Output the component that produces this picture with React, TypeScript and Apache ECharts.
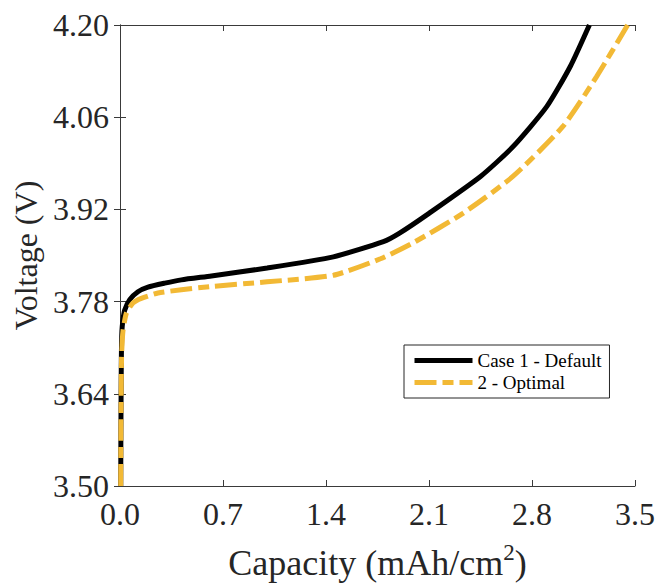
import React, { useEffect, useRef } from "react";
import * as echarts from "echarts";

const xTicks = [0, 0.7, 1.4, 2.1, 2.8, 3.5];
const yTicks = [3.5, 3.64, 3.78, 3.92, 4.06, 4.2];

const seriesNames = ["Case 1 - Default", "2 - Optimal"];

const defaultCap = [0.005, 0.006, 0.008, 0.0095, 0.013, 0.02, 0.032, 0.066, 0.122, 0.19, 0.304, 0.417, 0.621, 1.0, 1.45, 1.79, 1.9, 2.1, 2.45, 2.67, 2.9, 3.06, 3.19];
const defaultVolt = [3.5, 3.58, 3.66, 3.7, 3.735, 3.752, 3.767, 3.783, 3.795, 3.802, 3.808, 3.813, 3.819, 3.831, 3.848, 3.871, 3.884, 3.914, 3.97, 4.015, 4.076, 4.137, 4.2];

const optimalCap = [0.005, 0.006, 0.008, 0.0095, 0.012, 0.02, 0.043, 0.088, 0.145, 0.258, 0.417, 0.621, 1.0, 1.45, 1.77, 1.99, 2.33, 2.67, 3.01, 3.24, 3.45];
const optimalVolt = [3.5, 3.58, 3.64, 3.68, 3.705, 3.735, 3.762, 3.778, 3.785, 3.793, 3.798, 3.803, 3.81, 3.82, 3.845, 3.869, 3.914, 3.97, 4.046, 4.122, 4.2];

const FONT = "Liberation Serif, Times New Roman, serif";
const AXIS_COLOR = "#3a3a3a";
const TEXT_COLOR = "#262626";

export default function App() {
  const ref = useRef<HTMLDivElement>(null);
  useEffect(() => {
    if (!ref.current) return;
    const chart = echarts.init(ref.current, undefined, { renderer: "svg" });
    const xMin = xTicks[0];
    const xMax = xTicks[xTicks.length - 1];
    const xInt = xTicks[1] - xTicks[0];
    const yMin = yTicks[0];
    const yMax = yTicks[yTicks.length - 1];
    const yInt = 0.14;
    const axisLine = { show: true, lineStyle: { color: AXIS_COLOR, width: 1 } };
    const axisTick = { show: true, inside: true, length: 6, lineStyle: { color: AXIS_COLOR, width: 1 } };
    chart.setOption({
      animation: false,
      backgroundColor: "#ffffff",
      textStyle: { fontFamily: FONT },
      grid: { left: 120, right: 20, top: 25, bottom: 100, containLabel: false, outerBoundsMode: "none" },
      legend: {
        show: true,
        orient: "vertical",
        left: 404,
        top: 345,
        data: seriesNames,
        itemWidth: 58,
        itemHeight: 14,
        itemGap: 3,
        padding: [6, 8, 6, 8],
        borderColor: "#262626",
        borderWidth: 1,
        borderRadius: 0,
        backgroundColor: "#ffffff",
        itemStyle: { opacity: 0 },
        lineStyle: { width: 5 },
        textStyle: { fontFamily: FONT, fontSize: 19, color: "#000000" },
        selectedMode: false,
      },
      xAxis: [
        {
          type: "value",
          min: xMin,
          max: xMax,
          interval: xInt,
          position: "bottom",
          axisLine,
          axisTick,
          splitLine: { show: false },
          axisLabel: {
            formatter: (v: number) => v.toFixed(1),
            fontFamily: FONT,
            fontSize: 32,
            color: TEXT_COLOR,
            margin: 12,
          },
          name: "{a|Capacity (mAh/cm}{s|2}{a|)}",
          nameLocation: "middle",
          nameGap: 55,
          nameTextStyle: {
            rich: {
              a: { fontFamily: FONT, fontSize: 36, color: TEXT_COLOR, verticalAlign: "bottom", lineHeight: 40 },
              s: { fontFamily: FONT, fontSize: 23, color: TEXT_COLOR, verticalAlign: "top", lineHeight: 40, padding: [0, 0, 17, 0] },
            },
          },
        },
        {
          type: "value",
          min: xMin,
          max: xMax,
          interval: xInt,
          position: "top",
          axisLine,
          axisTick,
          splitLine: { show: false },
          axisLabel: { show: false },
        },
      ],
      yAxis: [
        {
          type: "value",
          min: yMin,
          max: yMax,
          interval: yInt,
          position: "left",
          axisLine,
          axisTick,
          splitLine: { show: false },
          axisLabel: {
            formatter: (v: number) => v.toFixed(2),
            fontFamily: FONT,
            fontSize: 32,
            color: TEXT_COLOR,
            margin: 11,
          },
          name: "Voltage (V)",
          nameLocation: "middle",
          nameGap: 92,
          nameTextStyle: { fontFamily: FONT, fontSize: 32, color: TEXT_COLOR, verticalAlign: "middle" },
        },
        {
          type: "value",
          min: yMin,
          max: yMax,
          interval: yInt,
          position: "right",
          axisLine,
          axisTick,
          splitLine: { show: false },
          axisLabel: { show: false },
        },
      ],
      series: [
        {
          name: seriesNames[0],
          type: "line",
          xAxisIndex: 0,
          yAxisIndex: 0,
          data: defaultCap.map((c, i) => [c, defaultVolt[i]]),
          showSymbol: false,
          symbol: "none",
          smooth: 0.2,
          lineStyle: { color: "#000000", width: 5 },
          itemStyle: { color: "#000000" },
        },
        {
          name: seriesNames[1],
          type: "line",
          xAxisIndex: 0,
          yAxisIndex: 0,
          data: optimalCap.map((c, i) => [c, optimalVolt[i]]),
          showSymbol: false,
          symbol: "none",
          smooth: 0.2,
          lineStyle: { color: "#f2b935", width: 5, type: [22, 6, 11, 6] },
          itemStyle: { color: "#f2b935" },
        },
      ],
    });
    return () => chart.dispose();
  }, []);
  return <div ref={ref} style={{ width: 655, height: 586, position: "absolute", left: 0, top: 0 }} />;
}
